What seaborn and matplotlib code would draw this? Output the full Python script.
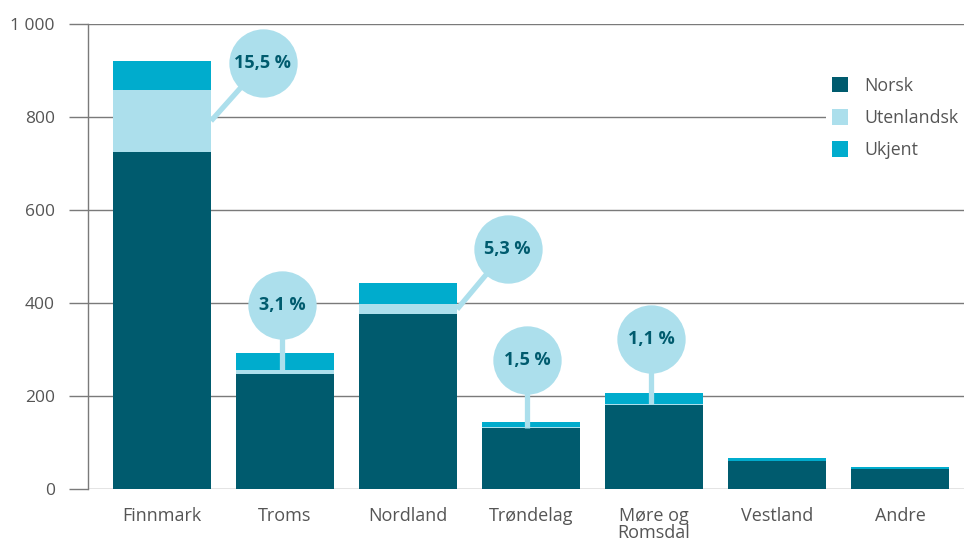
import matplotlib
matplotlib.use("Agg")
import matplotlib.pyplot as plt
import seaborn as sns
import pandas as pd
import numpy as np

# data
regions = ["Finnmark", "Troms", "Nordland", "Trøndelag", "Møre og\nRomsdal", "Vestland", "Andre"]
norsk = [725, 247, 376, 131, 181, 60, 43]
utenlandsk = [133, 8, 21, 2, 2, 0, 0]
ukjent = [62, 37, 45, 11, 23, 6, 4]
share_pct = [15.5, 3.1, 5.3, 1.5, 1.1]

# bubble layout (offset from bar centre in category units, height in data units)
bubble_dx = [0.82, -0.02, 0.81, -0.03, -0.02]
bubble_y = [916, 396, 516, 277, 323]

c_norsk = "#005B6E"
c_uten = "#ACDFEC"
c_ukjent = "#00ACCD"
grid_c = "#7a7a7a"
text_c = "#555555"

sns.set_theme(style="white")
plt.rcParams["font.family"] = ["Open Sans", "DejaVu Sans"]

df = pd.DataFrame({"region": regions, "norsk": norsk,
                   "utenlandsk": utenlandsk, "ukjent": ukjent})
df["lvl1"] = df["norsk"]
df["lvl2"] = df["norsk"] + df["utenlandsk"]
df["lvl3"] = df["lvl2"] + df["ukjent"]

fig = plt.figure(figsize=(9.64, 5.44), dpi=100)
ax = fig.add_axes([0.0913, 0.1011, 0.9087, 0.8548])

sns.barplot(data=df, x="region", y="lvl3", color=c_ukjent, width=0.8,
            saturation=1, ax=ax, label="Ukjent", zorder=2)
sns.barplot(data=df, x="region", y="lvl2", color=c_uten, width=0.8,
            saturation=1, ax=ax, label="Utenlandsk", zorder=2)
sns.barplot(data=df, x="region", y="lvl1", color=c_norsk, width=0.8,
            saturation=1, ax=ax, label="Norsk", zorder=2)
for p in ax.patches:
    p.set_linewidth(0)

# bubbles with share of foreign catch
for i, pct in enumerate(share_pct):
    bx = i + bubble_dx[i]
    by = bubble_y[i]
    ax_x = i + 0.4 if bubble_dx[i] > 0.4 else bx
    ax_y = norsk[i] + utenlandsk[i] / 2
    ax.plot([bx, ax_x], [by, ax_y], color=c_uten, lw=3.8,
            solid_capstyle="butt", zorder=3, clip_on=False)
    ax.scatter([bx], [by], s=2420, color=c_uten, zorder=4,
               linewidths=0, clip_on=False)
    ax.text(bx, by, f"{pct:.1f} %".replace(".", ","), ha="center",
            va="center", fontsize=13, fontweight="bold", color=c_norsk,
            zorder=5)

ax.set_ylim(0, 1000)
ax.set_xlim(-0.6, 6.52)
ax.set_yticks([0, 200, 400, 600, 800, 1000])
ax.set_yticklabels(["0", "200", "400", "600", "800", "1 000"])
ax.yaxis.grid(True, color=grid_c, lw=1.0, zorder=0)
ax.set_axisbelow(True)
ax.tick_params(axis="y", length=14, width=1.0, color=grid_c, pad=10,
               labelsize=12.5, labelcolor=text_c, left=True)
ax.tick_params(axis="x", length=0, pad=13, labelsize=13,
               labelcolor=text_c)
for lab in ax.get_xticklabels():
    lab.set_linespacing(0.95)
ax.set_xlabel("")
ax.set_ylabel("")
for s in ["top", "right", "bottom"]:
    ax.spines[s].set_visible(False)
ax.spines["left"].set_color(grid_c)
ax.spines["left"].set_linewidth(1.0)

handles, labels = ax.get_legend_handles_labels()
order = [labels.index(n) for n in ["Norsk", "Utenlandsk", "Ukjent"]]
leg = ax.legend([handles[k] for k in order], [labels[k] for k in order],
                loc="upper right", bbox_to_anchor=(1.01, 0.917),
                frameon=True, facecolor="white", edgecolor="none",
                framealpha=1, fontsize=12.8, handlelength=0.95,
                handleheight=0.95, handletextpad=0.9, labelspacing=0.8,
                borderpad=0.3)
for t in leg.get_texts():
    t.set_color(text_c)

fig.savefig("out.png", dpi=100)
